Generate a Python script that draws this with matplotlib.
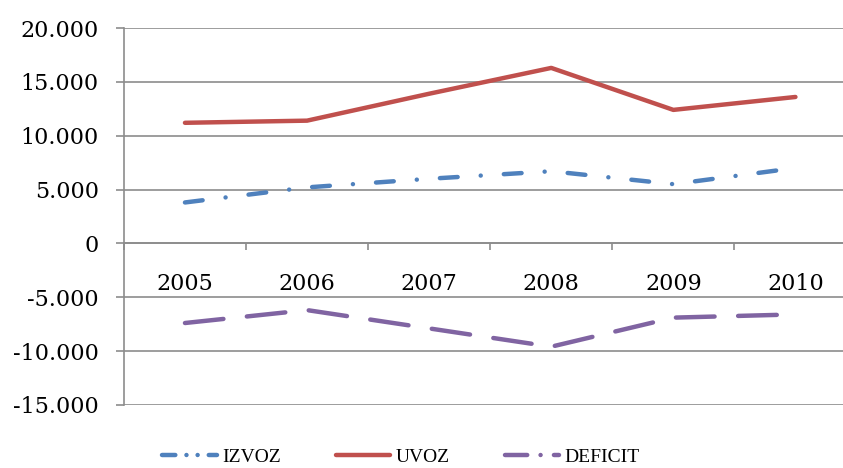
import matplotlib
matplotlib.use("Agg")
import matplotlib.pyplot as plt
from matplotlib.ticker import FuncFormatter

years = ["2005", "2006", "2007", "2008", "2009", "2010"]
izvoz = [3800, 5200, 6000, 6700, 5500, 7000]
uvoz = [11200, 11400, 13900, 16300, 12400, 13600]
deficit = [-7400, -6200, -7900, -9600, -6900, -6600]

plt.rcParams['font.family'] = ['DejaVu Serif']

fig = plt.figure(figsize=(8.43, 4.68), dpi=100)
ax = fig.add_axes([0.147, 0.135, 0.869, 0.805])

x = list(range(len(years)))
ax.plot(x, izvoz, color="#4f81bd", lw=3.2, dashes=(4.0, 5.2, 0.01, 5.2),
        dash_capstyle="round", solid_capstyle="round", label="IZVOZ")
ax.plot(x, uvoz, color="#c0504d", lw=3.2, solid_capstyle="round", label="UVOZ")
ax.plot(x, deficit, color="#8064a2", lw=3.2, dashes=(8.7, 5.3),
        dash_capstyle="round", label="DEFICIT")

ax.set_xlim(-0.5, 5.5)
ax.set_ylim(-15000, 20000)
ax.set_yticks(range(-15000, 20001, 5000))
ax.yaxis.set_major_formatter(FuncFormatter(lambda v, p: f"{int(v):,}".replace(",", ".")))
ax.grid(axis="y", color="#8c8c8c", lw=1.2)
ax.set_axisbelow(True)

for s in ["top", "right"]:
    ax.spines[s].set_visible(False)
ax.spines["bottom"].set_position(("data", 0))
ax.spines["bottom"].set_color("#8c8c8c")
ax.spines["bottom"].set_linewidth(1.2)
ax.spines["left"].set_color("#8c8c8c")
ax.spines["left"].set_linewidth(1.2)

ax.set_xticks(x)
ax.set_xticklabels(years)
ax.set_xticks([i + 0.5 for i in range(-1, 6)], minor=True)
ax.tick_params(axis="x", which="major", length=0, pad=21, labelsize=16)
ax.tick_params(axis="x", which="minor", length=5, width=1.2, color="#8c8c8c", direction="out")
ax.tick_params(axis="y", length=6, width=1.2, color="#8c8c8c", labelsize=16, pad=12)

leg = fig.legend(loc="center left", bbox_to_anchor=(0.172, 0.024), ncol=3, frameon=False,
                 prop={"family": "Liberation Serif", "size": 14},
                 handlelength=2.8, handletextpad=0.25, columnspacing=2.85)
leg.get_lines()[0].set_dashes((3.0, 2.5, 0.01, 2.5, 0.01, 2.5))
leg.get_lines()[2].set_dashes((5.0, 3.0, 0.01, 3.0))

fig.savefig("out.png", dpi=100)
